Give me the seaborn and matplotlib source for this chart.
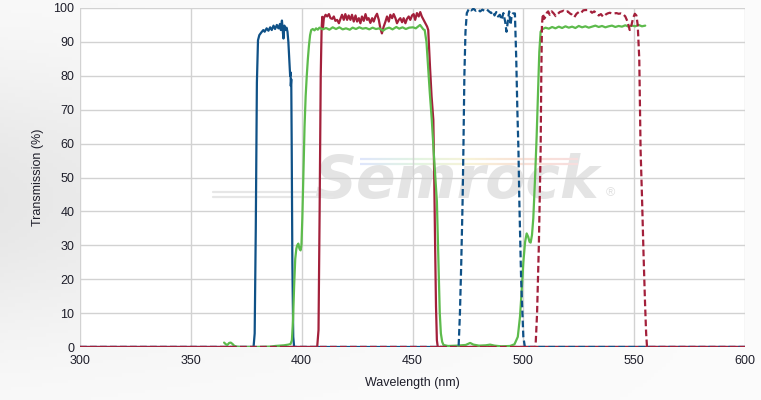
import numpy as np
import pandas as pd
import matplotlib
matplotlib.use("Agg")
import matplotlib.pyplot as plt
import seaborn as sns
from matplotlib.collections import LineCollection

# ---------------- data ----------------
x_ticks = [300, 350, 400, 450, 500, 550, 600]
y_ticks = [0, 10, 20, 30, 40, 50, 60, 70, 80, 90, 100]

blue_solid_nm = [300, 378.3, 378.8, 379.3, 379.8, 380.3, 380.9, 381.8, 382.7, 383.3, 384.2, 385.0,
                 385.8, 386.5, 387.3, 388.0, 388.8, 389.5, 390.2, 390.6, 391.1, 391.5, 391.8, 392.2,
                 392.8, 393.2, 393.6, 394.0, 394.4, 394.8, 395.0, 395.1, 395.3, 395.5, 395.8, 396.2,
                 396.6, 600]
blue_solid_pct = [0, 0, 4, 35, 78, 90.5, 92, 92.8, 93.5, 93, 94, 93.3,
                  94.3, 93.5, 94.8, 93.8, 95, 94, 95.3, 93.5, 96.3, 93, 91, 94.8,
                  93.5, 94.2, 93, 90, 85, 80, 81, 77, 79, 60, 25, 3,
                  0, 0]

red_solid_nm = [300, 407.0, 407.6, 408.1, 408.6, 409.0, 409.3, 409.6, 410.0, 410.8, 411.5, 412.3,
                413.0, 413.8, 414.5, 415.2, 416.0, 416.8, 417.5, 418.2, 419.0, 419.7, 420.5,
                421.2, 422.0, 422.7, 423.5, 424.3, 425.0, 425.8, 426.5, 427.2, 428.0, 428.8,
                429.5, 430.2, 431.0, 431.8, 432.5, 433.3, 434.0, 434.8, 435.5, 436.2, 437.0,
                437.8, 438.5, 439.3, 440.0, 440.8, 441.5, 442.3, 443.0, 443.8, 444.5, 445.3,
                446.0, 446.8, 447.5, 448.3, 449.0, 449.8, 450.5, 451.2, 452.0, 452.8, 453.5,
                454.2, 455.0, 455.8, 456.6, 457.1, 457.9, 458.6, 459.4, 459.8, 460.2, 460.6,
                461.0, 461.4, 600]
red_solid_pct = [0, 0, 5, 40, 80, 94, 97.4, 94, 97, 98, 97.5, 98.2,
                 97, 96.8, 97.5, 96.2, 96.5, 95.5, 96.8, 98, 96.5, 98.2, 96.5,
                 97.8, 96.5, 98, 96, 97.8, 96, 97, 95.5, 97.5, 96.2, 98.2,
                 96.5, 97, 95.6, 97, 96, 97.5, 98.3, 96.5, 94, 92.5, 94.5,
                 96, 97.5, 96, 98, 97, 98.2, 97, 95.5, 96.5, 97, 95.8,
                 97, 95.5, 96.8, 97.5, 96.5, 97.8, 98.2, 96.5, 98.5, 97.5, 98.8,
                 97.5, 96.5, 95.5, 94.5, 93.5, 82.6, 74, 67, 50, 30, 12,
                 2, 0, 0]

green_nm = [365.0, 365.8, 366.5, 367.3, 368.0, 368.8, 369.5, 370.5, 372.0, 380.0, 386.0, 388.0,
            390.0, 392.0, 394.0, 395.0, 395.6, 396.1, 396.6, 397.1, 397.6, 398.0, 398.5, 399.0,
            399.5, 399.9, 400.3, 400.8, 401.3, 401.8, 402.3, 402.8, 403.3, 403.8, 404.3, 405.0,
            405.8, 406.5, 407.3, 408.0, 409.5, 411.0, 412.5, 414.0, 415.5, 417.0, 418.5, 420.0,
            421.7, 423.0, 424.5, 426.0, 427.5, 429.0, 430.5, 432.0, 433.5, 435.0, 436.7, 438.0,
            439.5, 441.0, 442.7, 444.0, 445.5, 447.0, 448.5, 450.2, 451.5, 453.4, 454.9, 455.5,
            456.3, 457.0, 457.8, 458.7, 459.8, 461.0, 461.7, 462.3, 462.8, 463.4, 464.0, 466.0,
            470.0, 474.0, 476.0, 477.5, 480.0, 483.0, 485.0, 487.0, 490.0, 494.0, 496.0, 497.5,
            498.5, 499.2, 500.0, 500.8, 501.5, 502.2, 502.8, 503.3, 503.9, 504.5, 505.3, 506.0,
            506.6, 507.2, 507.8, 508.5, 510.0, 511.5, 513.0, 514.5, 516.0, 517.5, 519.0, 520.5,
            522.0, 523.5, 525.0, 526.5, 528.0, 529.5, 531.0, 532.5, 534.0, 535.5, 537.0, 538.5,
            540.0, 541.5, 543.0, 544.5, 546.0, 547.5, 549.0, 550.5, 552.0, 553.5, 555.0]
green_pct = [1.3, 0.8, 0.6, 1.2, 1.3, 0.9, 0.4, 0.1, 0, 0, 0.1, 0.3,
             0.4, 0.5, 0.7, 0.9, 2, 8, 18, 26, 29, 30, 30.5, 29,
             28.5, 30, 38, 52, 65, 74, 80, 85, 89, 92, 93.5, 93.8,
             93.4, 94, 93.6, 94.2, 93.7, 94.1, 93.6, 94.3, 93.8, 94.3, 93.7, 94,
             93.6, 94.2, 93.8, 94.3, 93.9, 94.1, 93.7, 94.2, 93.8, 94, 93.3, 93.9,
             94.2, 93.7, 94.4, 93.9, 94.3, 93.8, 94.2, 94.3, 94, 95, 93.7, 93.5,
             90, 83, 75, 67, 55, 43, 25, 10, 4, 1.5, 0.6, 0.3,
             0.4, 0.6, 1.2, 0.7, 0.4, 0.5, 0.7, 0.4, 0.2, 0.3, 0.8, 3,
             9, 16, 25, 31, 33.5, 32.5, 31, 30.8, 33, 38, 50, 62,
             75, 87, 93, 93.7, 94.2, 93.9, 94.4, 94.0, 94.5, 94.1, 94.6, 94.2,
             94.5, 94.1, 94.7, 94.3, 94.6, 94.2, 94.5, 94.8, 94.4, 94.7, 94.3, 94.6,
             94.8, 94.4, 94.7, 94.5, 94.9, 94.5, 94.8, 94.6, 95.0, 94.6, 94.8]

blue_dash_nm = [300, 470.8, 471.4, 472.0, 472.6, 473.0, 473.4, 473.9, 474.5, 475.5, 476.5, 477.5,
                478.5, 479.5, 480.5, 481.5, 482.5, 483.5, 484.5, 485.5, 486.3, 487.0, 487.8,
                488.6, 489.4, 490.2, 491.0, 491.8, 492.4, 493.0, 493.6, 494.2, 494.8, 495.3,
                496.2, 496.8, 497.3, 497.8, 498.2, 499.0, 500.0, 500.7, 600]
blue_dash_pct = [0, 0, 10, 25, 43, 60, 80, 93, 98.5, 99.8, 99.3, 99.8,
                 99.2, 99.6, 99.0, 99.5, 99.2, 99.6, 99.0, 98.5, 99.0, 97.8, 98.8,
                 97.5, 98.0, 96.5, 98.5, 96.0, 93.0, 96.0, 99.0, 95.0, 98.0, 98.4,
                 98.4, 85, 70, 58, 43, 20, 3, 0, 0]

red_dash_nm = [300, 505.5, 506.2, 507.0, 507.8, 508.1, 508.4, 508.8, 509.4, 510.0, 510.6, 511.2,
               511.9, 512.8, 513.7, 514.6, 515.5, 516.4, 517.3, 518.2, 519.1, 520.0, 521.0,
               522.0, 523.0, 524.0, 525.0, 526.0, 527.0, 528.0, 529.0, 530.0, 531.0, 532.0,
               533.0, 534.0, 535.0, 536.0, 537.0, 538.0, 539.0, 540.0, 541.0, 542.0, 543.0,
               544.0, 545.0, 546.0, 547.0, 548.0, 548.8, 549.5, 550.3, 551.0, 551.6, 552.3,
               552.9, 553.5, 554.2, 554.9, 555.4, 555.8, 600]
red_dash_pct = [0, 0, 10, 30, 58, 80, 95, 98.3, 96.8, 97.5, 98.6, 99.0,
                98.0, 99.0, 98.4, 97.6, 98.2, 98.8, 99.0, 99.2, 98.8, 99.0, 98.4,
                98.0, 97.3, 98.3, 98.8, 98.5, 99.3, 99.4, 99.4, 99.2, 98.6, 99.0,
                98.4, 97.8, 98.2, 97.4, 98.0, 98.4, 98.6, 98.4, 98.4, 98.5, 98.3,
                98.4, 98.2, 97.5, 96.0, 93.5, 95.0, 97.0, 98.3, 97.8, 95.0, 85,
                58, 45, 28, 13, 4, 0, 0]

series = [
    ("blue_solid", blue_solid_nm, blue_solid_pct, "#0f5187", "-"),
    ("red_solid", red_solid_nm, red_solid_pct, "#a3203b", "-"),
    ("green", green_nm, green_pct, "#5dbb4c", "-"),
    ("blue_dash", blue_dash_nm, blue_dash_pct, "#0f5187", (0, (3.0, 1.5))),
    ("red_dash", red_dash_nm, red_dash_pct, "#a3203b", (0, (3.0, 1.5))),
]

# ---------------- figure ----------------
sns.set_theme(style="white")
plt.rcParams["font.family"] = ["Liberation Sans", "DejaVu Sans"]

W, H = 761, 400
fig = plt.figure(figsize=(W / 100, H / 100), dpi=100)

# light gray background gradient
bg = fig.add_axes([0, 0, 1, 1], zorder=-10)
gx, gy = np.meshgrid(np.linspace(0, 1, 200), np.linspace(0, 1, 120))
g = 0.985 - 0.08 * np.exp(-((gy - 0.5) / 0.35) ** 2) * (1 - gx) ** 1.6
bg.imshow(np.dstack([g, g, g]), aspect="auto", extent=[0, 1, 0, 1], origin="lower")
bg.set_axis_off()

ax = fig.add_axes([80 / W, 1 - 347 / H, (745 - 80) / W, (347 - 8) / H])
ax.set_facecolor("white")

# watermark
ax.text(0.566, 0.44, "Semrock", transform=ax.transAxes, ha="center", va="baseline",
        fontsize=42, fontweight="bold", style="italic", family="DejaVu Sans",
        color="#e4e4e4", zorder=0.5)
ax.text(0.797, 0.445, "®", transform=ax.transAxes, ha="center", va="baseline",
        fontsize=9, color="#e0e0e0", zorder=0.5)
ax.plot([(213 - 80) / 665, (333 - 80) / 665], [(347 - 191.5) / 339] * 2, transform=ax.transAxes,
        color="#e6e6e6", lw=1.6, zorder=0.5)
ax.plot([(213 - 80) / 665, (333 - 80) / 665], [(347 - 196.5) / 339] * 2, transform=ax.transAxes,
        color="#e6e6e6", lw=1.6, zorder=0.5)
rx = np.linspace((360 - 80) / 665, (578 - 80) / 665, 60)
cmap = matplotlib.colors.LinearSegmentedColormap.from_list(
    "rb", ["#dfe6fb", "#e2f4e2", "#f7f3d8", "#f9e0d6", "#f7dede"])
for yy in [(347 - 158.5) / 339, (347 - 163.5) / 339]:
    segs = [[(rx[i], yy), (rx[i + 1], yy)] for i in range(len(rx) - 1)]
    lc = LineCollection(segs, colors=cmap(np.linspace(0, 1, len(segs))), linewidths=1.6,
                        transform=ax.transAxes, zorder=0.5)
    ax.add_collection(lc)

for name, nm, pct, color, ls in series:
    df = pd.DataFrame({"Wavelength": nm, "Transmission": pct})
    sns.lineplot(data=df, x="Wavelength", y="Transmission", ax=ax, color=color,
                 linestyle=ls, linewidth=1.6, sort=False, estimator=None, zorder=3)

ax.set_xlim(300, 600)
ax.set_ylim(0, 100)
ax.set_xticks(x_ticks)
ax.set_yticks(y_ticks)
ax.grid(True, color="#d2d2d2", linewidth=1.0, zorder=1)
ax.set_axisbelow(True)
for s in ax.spines.values():
    s.set_visible(False)
ax.tick_params(axis="both", length=0, labelsize=9, colors="#1e1e2a")
ax.tick_params(axis="x", pad=6)
ax.tick_params(axis="y", pad=4)
ax.set_xlabel("Wavelength (nm)", fontsize=9, color="#1e1e2a", labelpad=7)
ax.set_ylabel("Transmission (%)", fontsize=9, color="#1e1e2a", labelpad=7)

fig.savefig("out.png", dpi=100)
